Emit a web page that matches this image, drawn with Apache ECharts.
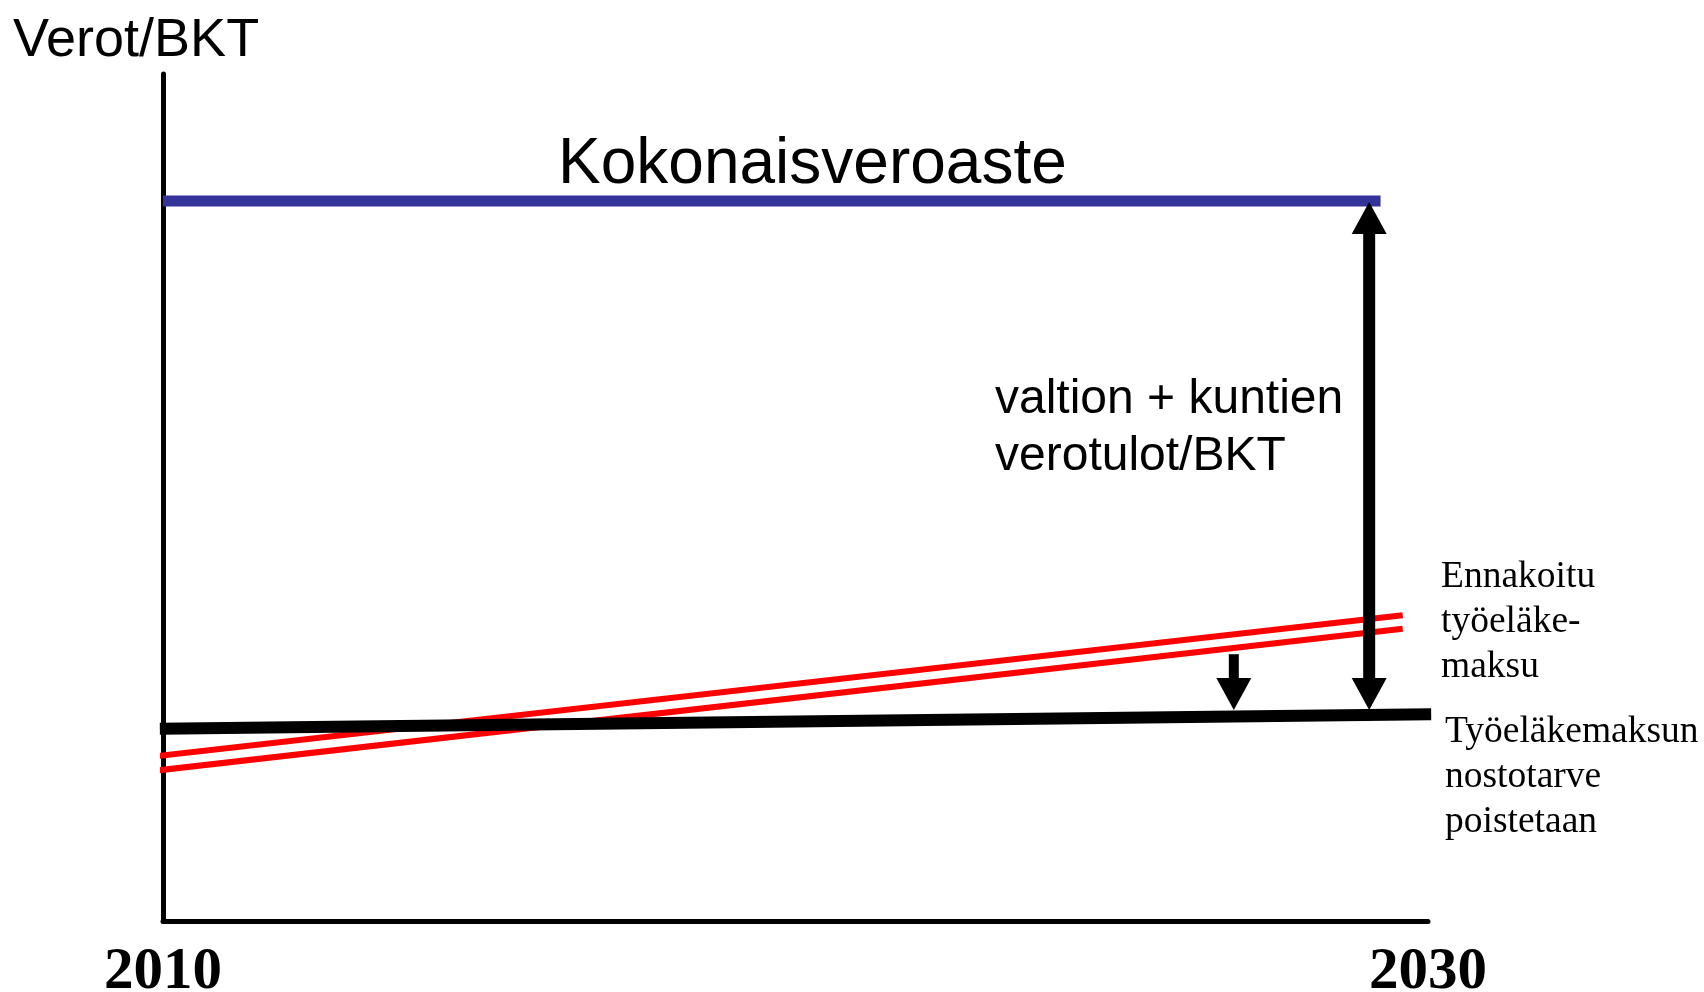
<!DOCTYPE html>
<html>
<head>
<meta charset="utf-8">
<script src="https://cdn.jsdelivr.net/npm/echarts@6/dist/echarts.min.js"></script>
<style>
  html, body { margin: 0; padding: 0; background: #ffffff; }
  #chart { width: 1704px; height: 992px; }
</style>
</head>
<body>
<div id="chart"></div>
<script>
// ---- data (schematic values) ----
const yearTicks = [2010, 2030];
const yAxisTitle = 'Verot/BKT';

// Total tax ratio (Kokonaisveroaste) – flat
const totalTaxX = [2010.0, 2029.25];
const totalTaxY = [85.0, 85.0];

// Forecast pension contribution (double red line)
const forecastX = [2009.94, 2029.6];
const forecastUpperY = [19.5, 36.1];
const forecastLowerY = [17.8, 34.5];

// Pension contribution when need to raise it is removed (thick black)
const pensionX = [2009.95, 2030.05];
const pensionY = [22.7, 24.4];

// Arrows: x position, from value, to value, number of heads
const arrowX = [2029.07, 2026.93];
const arrowFrom = [84.9, 31.5];
const arrowTo = [24.9, 24.9];
const arrowHeads = [2, 1];

// Labels
const totalTaxLabel = 'Kokonaisveroaste';
const stateLabel = ['valtion + kuntien', 'verotulot/BKT'];
const forecastLabel = ['Ennakoitu', 'työeläke-', 'maksu'];
const pensionLabel = ['Työeläkemaksun', 'nostotarve', 'poistetaan'];

// ---- build ----
function pairs(xs, ys) { return xs.map((x, i) => [x, ys[i]]); }
const arrowData = arrowX.map((x, i) => [x, arrowFrom[i], arrowTo[i], arrowHeads[i]]);

const SANS = '"Liberation Sans", Arial, sans-serif';
const SERIF = '"Liberation Serif", "Times New Roman", serif';

const chart = echarts.init(document.getElementById('chart'));

function lineSeries(name, data, color, width, z) {
  return {
    name: name, type: 'line', data: data, clip: false, z: z,
    symbol: 'none', silent: true, animation: false,
    lineStyle: { color: color, width: width, cap: 'butt' }
  };
}

const option = {
  backgroundColor: '#ffffff',
  animation: false,
  grid: { left: 163, right: 276, top: 74, bottom: 71, containLabel: false, outerBoundsMode: 'none' },
  xAxis: {
    type: 'value', min: 2010, max: 2030, interval: 10,
    axisLine: { show: true, lineStyle: { color: '#000', width: 5 } },
    axisTick: { show: false },
    splitLine: { show: false },
    axisLabel: {
      show: true, margin: 22, showMinLabel: true, showMaxLabel: true,
      fontFamily: SERIF, fontWeight: 'bold', fontSize: 59, color: '#000',
      formatter: v => (yearTicks.indexOf(v) >= 0 ? String(v) : '')
    }
  },
  yAxis: {
    type: 'value', min: 0, max: 100,
    axisLine: { show: true, lineStyle: { color: '#000', width: 5 } },
    axisTick: { show: false },
    splitLine: { show: false },
    axisLabel: { show: false }
  },
  series: [
    lineSeries('Ennakoitu ylä', pairs(forecastX, forecastUpperY), '#ff0000', 6, 2),
    lineSeries('Ennakoitu ala', pairs(forecastX, forecastLowerY), '#ff0000', 6, 2),
    lineSeries('Kokonaisveroaste', pairs(totalTaxX, totalTaxY), '#333399', 11, 3),
    lineSeries('Työeläkemaksu', pairs(pensionX, pensionY), '#000000', 12, 4),
    {
      type: 'custom', z: 5, clip: false, silent: true, animation: false,
      data: arrowData,
      renderItem: function (params, api) {
        const x = api.value(0);
        const top = api.coord([x, api.value(1)]);
        const bot = api.coord([x, api.value(2)]);
        const heads = api.value(3);
        const cx = top[0];
        const shaftW = heads === 2 ? 12 : 10;
        const headW = 35, headH = 32;
        const children = [];
        const shaftTop = heads === 2 ? top[1] + headH - 1 : top[1];
        const shaftBot = bot[1] - headH + 1;
        children.push({ type: 'rect', shape: { x: cx - shaftW / 2, y: shaftTop, width: shaftW, height: shaftBot - shaftTop }, style: { fill: '#000' } });
        children.push({ type: 'polygon', shape: { points: [[cx - headW / 2, bot[1] - headH], [cx + headW / 2, bot[1] - headH], [cx, bot[1]]] }, style: { fill: '#000' } });
        if (heads === 2) {
          children.push({ type: 'polygon', shape: { points: [[cx - headW / 2, top[1] + headH], [cx + headW / 2, top[1] + headH], [cx, top[1]]] }, style: { fill: '#000' } });
        }
        return { type: 'group', children: children };
      }
    }
  ],
  graphic: [
    { type: 'text', left: 13, top: 14, style: { text: yAxisTitle, font: '54px ' + SANS, fill: '#000' } },
    { type: 'text', left: 558, top: 133, style: { text: totalTaxLabel, font: '64px ' + SANS, fill: '#000' } },
    { type: 'text', left: 995, top: 371, style: { text: stateLabel.join('\n'), font: '48px ' + SANS, fill: '#000', lineHeight: 57 } },
    { type: 'text', left: 1441, top: 555, style: { text: forecastLabel.join('\n'), font: '37.5px ' + SERIF, fill: '#000', lineHeight: 45 } },
    { type: 'text', left: 1445, top: 710, style: { text: pensionLabel.join('\n'), font: '37.5px ' + SERIF, fill: '#000', lineHeight: 45 } }
  ]
};

chart.setOption(option);
</script>
</body>
</html>
